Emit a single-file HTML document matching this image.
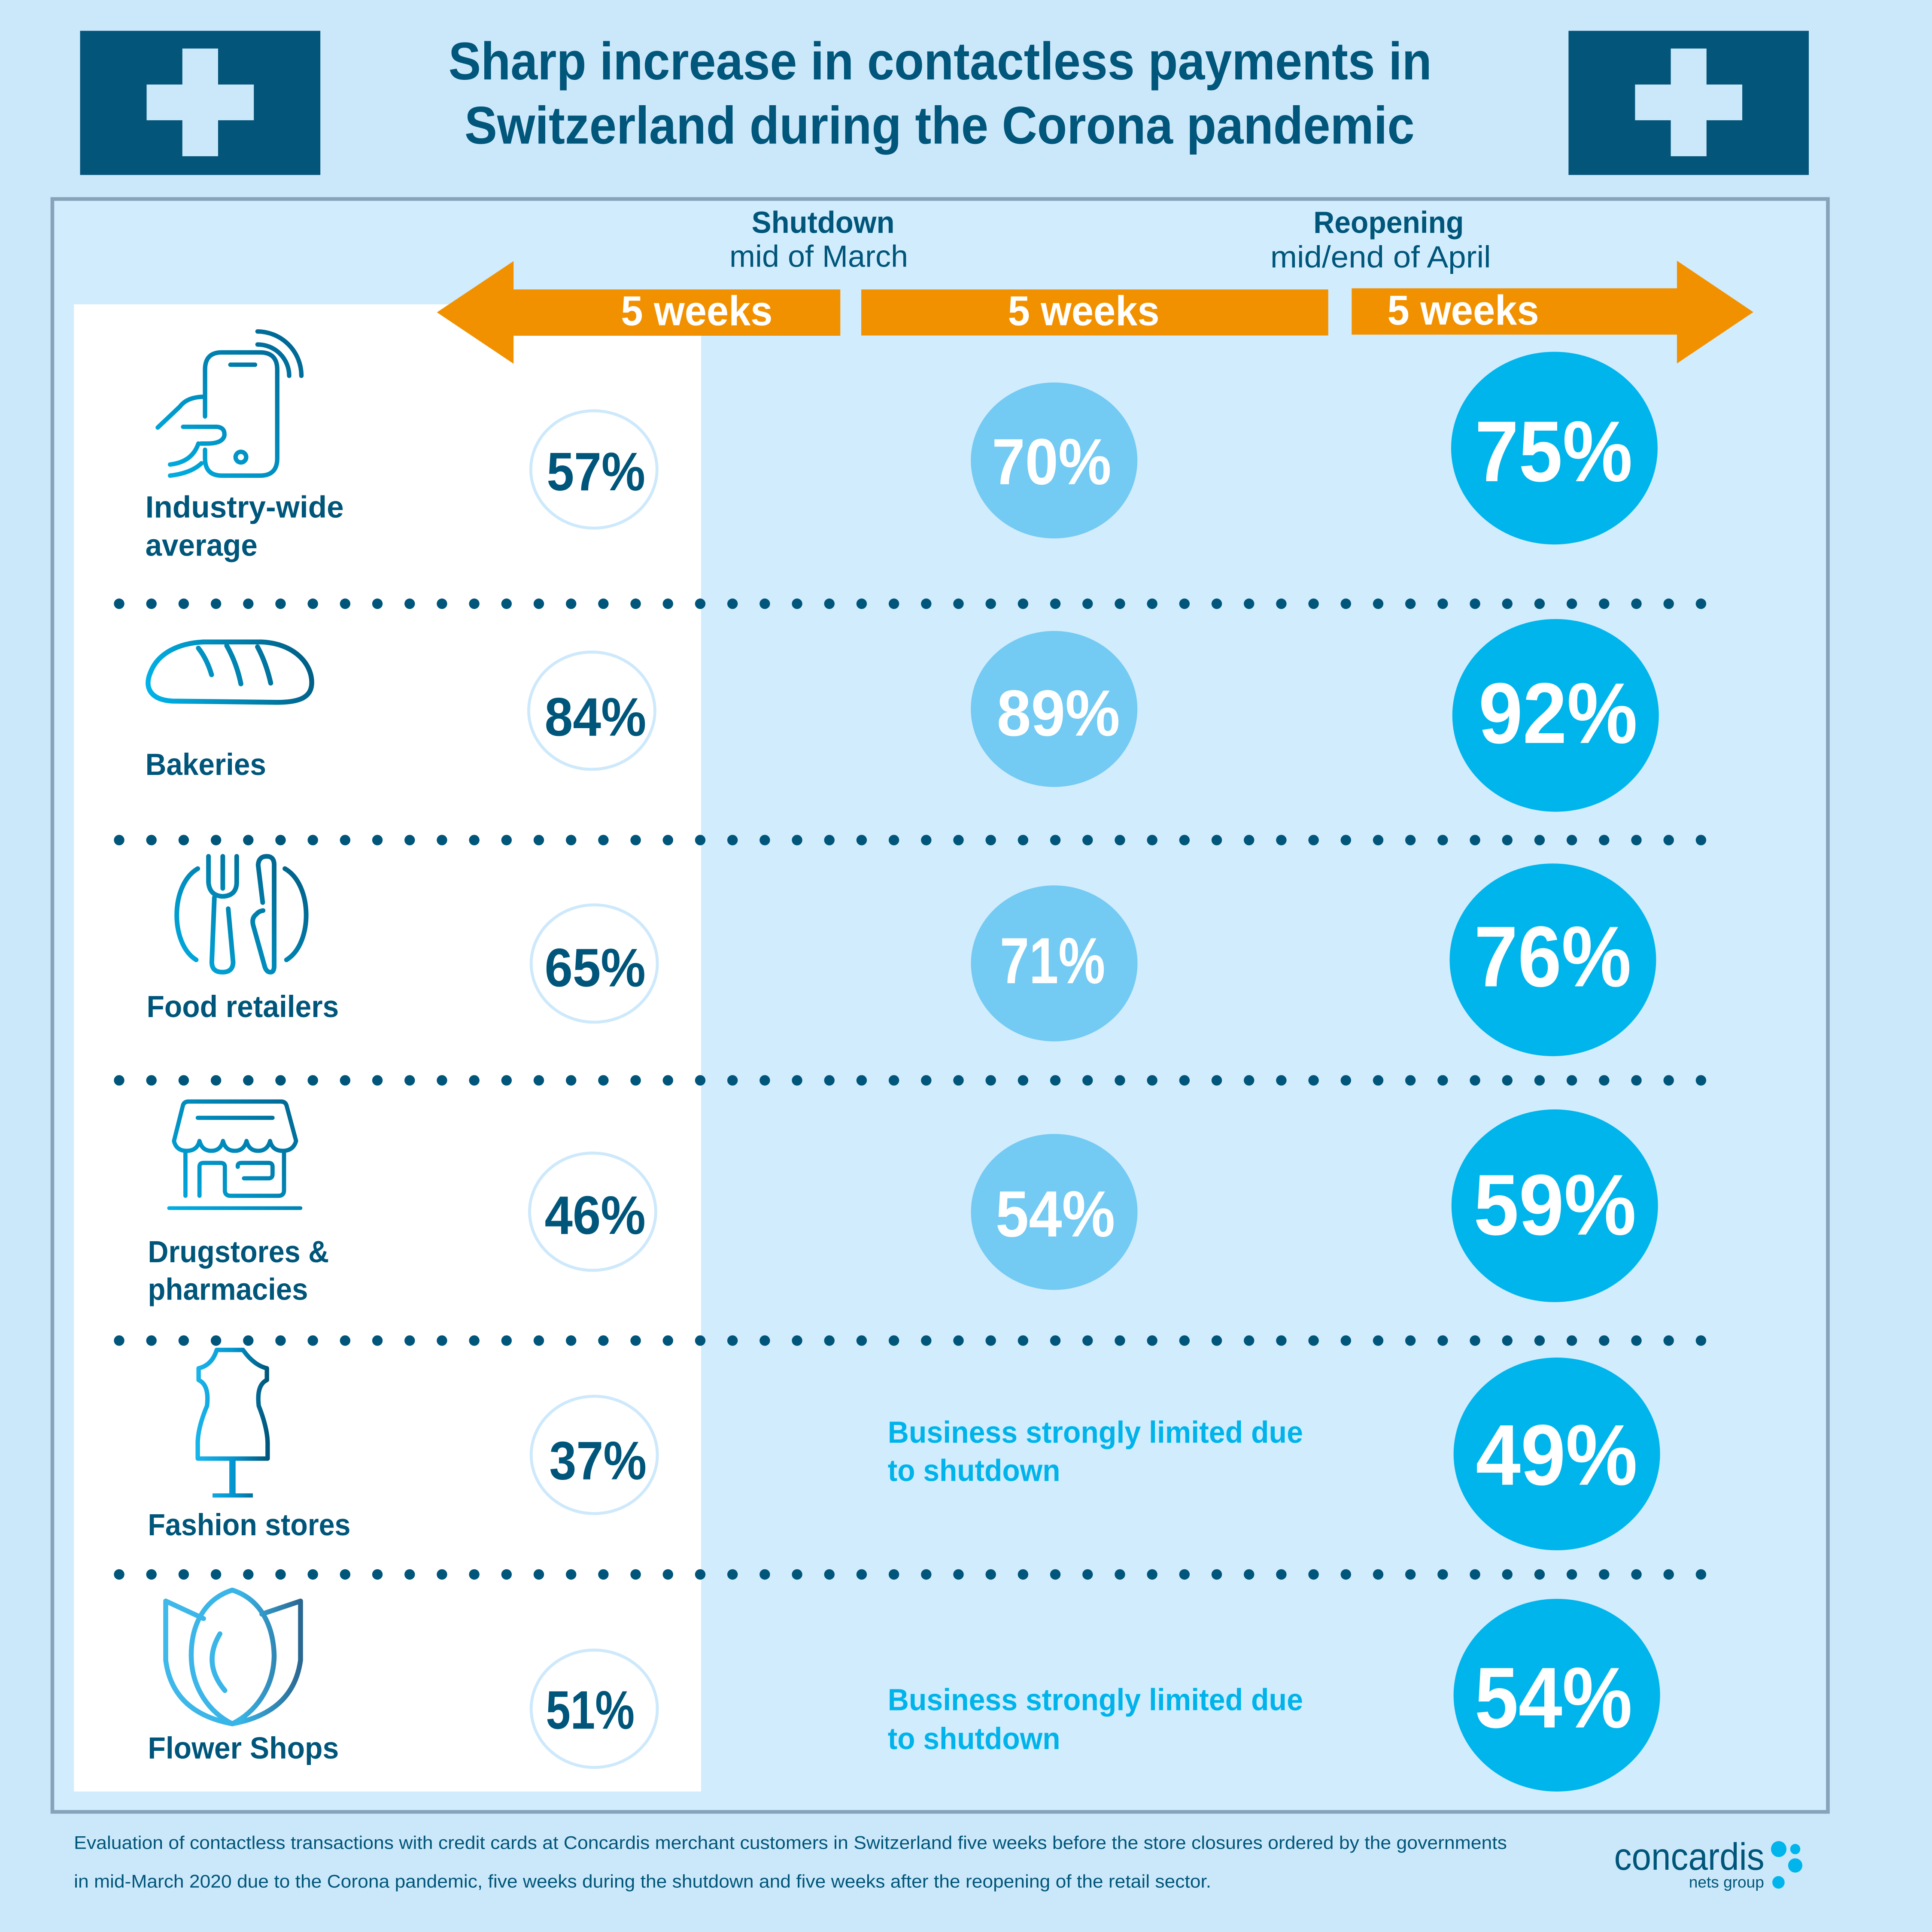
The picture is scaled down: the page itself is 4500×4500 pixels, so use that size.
<!DOCTYPE html>
<html>
<head>
<meta charset="utf-8">
<style>
html,body{margin:0;padding:0;background:#cbe8fa;}
svg{display:block;}
text{font-family:"Liberation Sans",Arial,sans-serif;}
</style>
</head>
<body>
<svg xmlns="http://www.w3.org/2000/svg" width="4500" height="4500" viewBox="0 0 1568 1568">
<defs>
  <linearGradient id="gPhone" gradientUnits="userSpaceOnUse" x1="125" y1="390" x2="245" y2="270">
    <stop offset="0" stop-color="#00b3e8"/><stop offset="1" stop-color="#00628d"/>
  </linearGradient>
  <linearGradient id="gBread" gradientUnits="userSpaceOnUse" x1="118" y1="570" x2="255" y2="525">
    <stop offset="0" stop-color="#00b6ec"/><stop offset="1" stop-color="#005a80"/>
  </linearGradient>
  <linearGradient id="gFood" gradientUnits="userSpaceOnUse" x1="142" y1="790" x2="250" y2="695">
    <stop offset="0" stop-color="#00b0e6"/><stop offset="1" stop-color="#005a80"/>
  </linearGradient>
  <linearGradient id="gStore" gradientUnits="userSpaceOnUse" x1="137" y1="982" x2="244" y2="892">
    <stop offset="0" stop-color="#00aee5"/><stop offset="1" stop-color="#00658f"/>
  </linearGradient>
  <linearGradient id="gDress" gradientUnits="userSpaceOnUse" x1="160" y1="0" x2="218" y2="0">
    <stop offset="0" stop-color="#19b4ea"/><stop offset="0.5" stop-color="#0496cf"/><stop offset="1" stop-color="#00557a"/>
  </linearGradient>
  <linearGradient id="gFlower" gradientUnits="userSpaceOnUse" x1="134" y1="0" x2="245" y2="0">
    <stop offset="0" stop-color="#3fb8ea"/><stop offset="0.55" stop-color="#38b4e6"/><stop offset="1" stop-color="#2a6690"/>
  </linearGradient>
</defs>

<!-- page background -->
<rect x="0" y="0" width="1568" height="1568" fill="#cbe8fa"/>

<!-- flags -->
<rect x="65" y="25" width="195" height="117" fill="#04557a"/>
<rect x="148" y="39.4" width="29" height="87.4" fill="#cbe8fa"/>
<rect x="119" y="68.6" width="87" height="29" fill="#cbe8fa"/>
<rect x="1273" y="25" width="195" height="117" fill="#04557a"/>
<rect x="1356" y="39.4" width="29" height="87.4" fill="#cbe8fa"/>
<rect x="1327" y="68.6" width="87" height="29" fill="#cbe8fa"/>

<!-- title -->
<text x="364" y="64.5" font-size="43" font-weight="bold" fill="#01567b" textLength="798" lengthAdjust="spacingAndGlyphs">Sharp increase in contactless payments in</text>
<text x="377" y="116.5" font-size="43" font-weight="bold" fill="#01567b" textLength="771" lengthAdjust="spacingAndGlyphs">Switzerland during the Corona pandemic</text>

<!-- main panel -->
<rect x="42.5" y="161.5" width="1441" height="1309" fill="#d1ecfd" stroke="#87a3ba" stroke-width="3"/>
<rect x="60" y="247" width="509" height="1207" fill="#ffffff"/>

<!-- headers -->
<text x="610" y="189" font-size="25" font-weight="bold" fill="#00567a" textLength="116" lengthAdjust="spacingAndGlyphs">Shutdown</text>
<text x="592" y="216.5" font-size="25" fill="#00567a" textLength="145" lengthAdjust="spacingAndGlyphs">mid of March</text>
<text x="1066" y="189" font-size="25" font-weight="bold" fill="#00567a" textLength="122" lengthAdjust="spacingAndGlyphs">Reopening</text>
<text x="1031" y="217" font-size="25" fill="#00567a" textLength="179" lengthAdjust="spacingAndGlyphs">mid/end of April</text>

<!-- arrows -->
<polygon points="354.6,253.5 416.8,211.9 416.8,234.9 682,234.9 682,272.5 416.8,272.5 416.8,295.2" fill="#f29100"/>
<rect x="699" y="234.9" width="379" height="37.4" fill="#f29100"/>
<polygon points="1097,234 1361,234 1361,211.6 1423,253.3 1361,295 1361,271.6 1097,271.6" fill="#f29100"/>
<text x="504" y="264" font-size="34" font-weight="bold" fill="#ffffff" textLength="123" lengthAdjust="spacingAndGlyphs">5 weeks</text>
<text x="818" y="264" font-size="34" font-weight="bold" fill="#ffffff" textLength="123" lengthAdjust="spacingAndGlyphs">5 weeks</text>
<text x="1126" y="263.5" font-size="34" font-weight="bold" fill="#ffffff" textLength="123" lengthAdjust="spacingAndGlyphs">5 weeks</text>

<!-- dotted separators -->
<g stroke="#00567a" stroke-width="8.5" stroke-linecap="round" stroke-dasharray="0 26.2" fill="none">
  <line x1="96.7" y1="490" x2="1382" y2="490"/>
  <line x1="96.7" y1="681.8" x2="1382" y2="681.8"/>
  <line x1="96.7" y1="876.8" x2="1382" y2="876.8"/>
  <line x1="96.7" y1="1088" x2="1382" y2="1088"/>
  <line x1="96.7" y1="1277.8" x2="1382" y2="1277.8"/>
</g>

<!-- outline circles (before) -->
<g fill="#ffffff" stroke="#cde9fb" stroke-width="2.4">
  <ellipse cx="482" cy="381" rx="51.2" ry="47.6"/>
  <ellipse cx="480.3" cy="576.8" rx="51.2" ry="47.6"/>
  <ellipse cx="482.3" cy="782" rx="51.2" ry="47.6"/>
  <ellipse cx="481" cy="983.4" rx="51.2" ry="47.6"/>
  <ellipse cx="482.3" cy="1180.8" rx="51.2" ry="47.6"/>
  <ellipse cx="482.3" cy="1386.8" rx="51.2" ry="47.6"/>
</g>
<g font-size="44" font-weight="bold" fill="#00567a">
  <text x="443.7" y="398" textLength="80" lengthAdjust="spacingAndGlyphs">57%</text>
  <text x="442" y="597" textLength="82.5" lengthAdjust="spacingAndGlyphs">84%</text>
  <text x="442" y="800.5" textLength="82" lengthAdjust="spacingAndGlyphs">65%</text>
  <text x="442" y="1001.5" textLength="82" lengthAdjust="spacingAndGlyphs">46%</text>
  <text x="445.8" y="1200.5" textLength="79" lengthAdjust="spacingAndGlyphs">37%</text>
  <text x="443" y="1403" textLength="72" lengthAdjust="spacingAndGlyphs">51%</text>
</g>

<!-- light circles (during) -->
<g fill="#73caf2">
  <ellipse cx="855.5" cy="373.7" rx="67.6" ry="63.3"/>
  <ellipse cx="855.5" cy="575.4" rx="67.6" ry="63.3"/>
  <ellipse cx="855.6" cy="781.9" rx="67.6" ry="63.3"/>
  <ellipse cx="855.6" cy="983.6" rx="67.6" ry="63.3"/>
</g>
<g font-size="53" font-weight="bold" fill="#ffffff">
  <text x="805" y="393" textLength="97" lengthAdjust="spacingAndGlyphs">70%</text>
  <text x="809" y="597" textLength="100" lengthAdjust="spacingAndGlyphs">89%</text>
  <text x="811.5" y="798" textLength="85.5" lengthAdjust="spacingAndGlyphs">71%</text>
  <text x="808" y="1003.5" textLength="97" lengthAdjust="spacingAndGlyphs">54%</text>
</g>

<!-- business limited text -->
<g font-size="25" font-weight="bold" fill="#00b4eb">
  <text x="720.5" y="1171" textLength="337" lengthAdjust="spacingAndGlyphs">Business strongly limited due</text>
  <text x="720.5" y="1202" textLength="140" lengthAdjust="spacingAndGlyphs">to shutdown</text>
  <text x="720.5" y="1388" textLength="337" lengthAdjust="spacingAndGlyphs">Business strongly limited due</text>
  <text x="720.5" y="1419.5" textLength="140" lengthAdjust="spacingAndGlyphs">to shutdown</text>
</g>

<!-- bright circles (after) -->
<g fill="#00b5ec">
  <ellipse cx="1261.5" cy="363.7" rx="83.8" ry="78.2"/>
  <ellipse cx="1262.5" cy="580.6" rx="83.8" ry="78.2"/>
  <ellipse cx="1260.3" cy="779" rx="83.8" ry="78.2"/>
  <ellipse cx="1261.8" cy="978.6" rx="83.8" ry="78.2"/>
  <ellipse cx="1263.5" cy="1180" rx="83.8" ry="78.2"/>
  <ellipse cx="1263.5" cy="1375.8" rx="83.8" ry="78.2"/>
</g>
<g font-size="70" font-weight="bold" fill="#ffffff">
  <text x="1197" y="390.5" textLength="128" lengthAdjust="spacingAndGlyphs">75%</text>
  <text x="1200" y="603" textLength="129" lengthAdjust="spacingAndGlyphs">92%</text>
  <text x="1196.4" y="800.5" textLength="127.6" lengthAdjust="spacingAndGlyphs">76%</text>
  <text x="1196" y="1002" textLength="132" lengthAdjust="spacingAndGlyphs">59%</text>
  <text x="1197.7" y="1205" textLength="131.3" lengthAdjust="spacingAndGlyphs">49%</text>
  <text x="1196.8" y="1402" textLength="128" lengthAdjust="spacingAndGlyphs">54%</text>
</g>

<!-- category labels -->
<g font-size="25" font-weight="bold" fill="#00567a">
  <text x="118" y="420" textLength="161" lengthAdjust="spacingAndGlyphs">Industry-wide</text>
  <text x="118" y="451" textLength="91" lengthAdjust="spacingAndGlyphs">average</text>
  <text x="118" y="629" textLength="98" lengthAdjust="spacingAndGlyphs">Bakeries</text>
  <text x="119" y="825.5" textLength="156" lengthAdjust="spacingAndGlyphs">Food retailers</text>
  <text x="120" y="1024.5" textLength="147" lengthAdjust="spacingAndGlyphs">Drugstores &amp;</text>
  <text x="120" y="1055" textLength="130" lengthAdjust="spacingAndGlyphs">pharmacies</text>
  <text x="120" y="1246" textLength="164.5" lengthAdjust="spacingAndGlyphs">Fashion stores</text>
  <text x="120" y="1427.3" textLength="155" lengthAdjust="spacingAndGlyphs">Flower Shops</text>
</g>

<!-- icon: phone -->
<g fill="none" stroke="url(#gPhone)" stroke-width="3.6" stroke-linecap="round" stroke-linejoin="round">
  <path d="M166.4,338 L166.4,300 Q166.4,286 180,286 L211,286 Q225,286 225,300 L225,372 Q225,386 211,386 L180,386 Q166.4,386 166.4,372 L166.4,365"/>
  <line x1="187" y1="296" x2="207" y2="296"/>
  <circle cx="195.5" cy="371" r="4.3"/>
  <path d="M209,269 A36,36 0 0 1 244.6,305"/>
  <path d="M209,279.6 A25.5,25.5 0 0 1 234.7,305"/>
  <path d="M128,347 L146,330 Q152,322 166,322"/>
  <path d="M148.6,346.4 L176,346.4 Q183,347 182,354 Q180,360 168,360 L163,360"/>
  <path d="M161,360 Q156,375 138,377"/>
  <path d="M138,386 Q155,384 163.5,376"/>
</g>

<!-- icon: bread -->
<g fill="none" stroke="url(#gBread)" stroke-width="4" stroke-linecap="round" stroke-linejoin="round">
  <path d="M140,569 C122,568 117,558 122,546 C128,530 145,522 165,521 L212,521 C238,522 253,538 253,554 C253,566 243,570 225,570 Z"/>
  <path d="M161,526 Q168,535 171.7,547.6"/>
  <path d="M184,524 Q192,538 195.5,555"/>
  <path d="M209,525 Q216,538 219.7,554.4"/>
</g>

<!-- icon: fork & knife -->
<g fill="none" stroke="url(#gFood)" stroke-width="3.8" stroke-linecap="round" stroke-linejoin="round">
  <path d="M160.5,705 C138,718 138,766 159.2,779"/>
  <path d="M231.2,705 C254,718 254,766 232.5,779"/>
  <path d="M169.2,695 L169.2,716 Q170,727 180.8,727.5 Q192,727 192.1,716 L192.1,695"/>
  <path d="M180.8,695 L180.8,721"/>
  <path d="M174,728.4 L171.9,781 Q172,789 180.5,789 Q189,789 189.2,781 L185.2,737.5"/>
  <path d="M213.2,732.5 L209.5,702 Q210,695 216.5,695 Q222.5,695 222.5,702 L222.5,784 Q222.5,789 219.5,789 Q216.5,789 215,785 L205.5,751 Q204,745 208,742 Q210,739.5 213.5,739"/>
</g>

<!-- icon: store -->
<g fill="none" stroke="url(#gStore)" stroke-width="3.4" stroke-linecap="round" stroke-linejoin="round">
  <path d="M141.2,926 L148.5,897 Q149.5,894 153,894 L228,894 Q231.5,894 232.5,897 L240.3,926 Q238,934 229.5,934 Q221,934 219.2,926 Q217,934 209.5,934 Q202,934 200.1,926 Q198,934 190.5,934 Q183,934 181,926 Q179,934 171.5,934 Q164,934 161.9,926 Q160,934 151.5,934 Q143,934 141.2,926 Z"/>
  <line x1="160.5" y1="907.2" x2="221.2" y2="907.2"/>
  <line x1="150.5" y1="934" x2="150.5" y2="970.5"/>
  <path d="M230.5,934 L230.5,966 Q230.5,970.5 226,970.5 L187,970.5 Q182.5,970.5 182.5,966 L182.5,947 Q182.5,943.8 179,943.8 L165,943.8 Q161.9,943.8 161.9,947 L161.9,970.5"/>
  <path d="M193,947 Q192.5,943.8 196,943.8 L218,943.8 Q221.2,943.8 221.2,947 L221.2,953 Q221.2,956.3 218,956.3 L198,956.3"/>
  <line x1="137.2" y1="980.5" x2="243.9" y2="980.5" stroke-width="3"/>
</g>

<!-- icon: dress form -->
<g fill="none" stroke="url(#gDress)" stroke-width="3.6" stroke-linejoin="round">
  <path d="M175.9,1095.6 Q172,1108 161.2,1110.5 L161.2,1120 Q170,1124 168,1141 Q160,1160 160.5,1173 L160.5,1183.8 L217.2,1183.8 L217.2,1173 Q217.5,1160 210,1141 Q208,1124 216.6,1120 L216.6,1110.5 Q206,1108 197.2,1095.6 Z"/>
</g>
<rect x="186.1" y="1184" width="5.1" height="29" fill="url(#gDress)"/>
<rect x="172.5" y="1212" width="32.7" height="3.4" fill="url(#gDress)"/>

<!-- icon: flower -->
<g fill="none" stroke="url(#gFlower)" stroke-width="4" stroke-linecap="round" stroke-linejoin="round">
  <path d="M165.2,1313.6 L134.5,1299.4 L134.5,1347.4 Q140,1390 188.5,1399"/>
  <path d="M212.5,1310 L243.9,1299.4 L243.9,1347.4 Q238,1390 188.5,1399"/>
  <path d="M188.5,1290.5 C165,1298 155,1320 155.2,1344 C155.5,1370 170,1390 188.5,1399 C207,1390 222,1370 222.5,1344 C222,1320 212,1298 188.5,1290.5 Z"/>
  <path d="M178.5,1326 Q164,1350 182.5,1372"/>
</g>

<!-- footer -->
<g font-size="15" fill="#00567a">
  <text x="60" y="1500.5" textLength="1163" lengthAdjust="spacingAndGlyphs">Evaluation of contactless transactions with credit cards at Concardis merchant customers in Switzerland five weeks before the store closures ordered by the governments</text>
  <text x="60" y="1532" textLength="923" lengthAdjust="spacingAndGlyphs">in mid-March 2020 due to the Corona pandemic, five weeks during the shutdown and five weeks after the reopening of the retail sector.</text>
</g>

<!-- logo -->
<text x="1310" y="1517.5" font-size="31" fill="#00567a" textLength="122" lengthAdjust="spacingAndGlyphs">concardis</text>
<text x="1370.7" y="1532" font-size="13" fill="#00567a" textLength="61" lengthAdjust="spacingAndGlyphs">nets group</text>
<g fill="#00b5ec">
  <ellipse cx="1443.6" cy="1500.7" rx="6.3" ry="6.5"/>
  <ellipse cx="1457" cy="1500.7" rx="4.1" ry="4.2"/>
  <ellipse cx="1457" cy="1514" rx="5.8" ry="5.8"/>
  <ellipse cx="1443.4" cy="1527.7" rx="5" ry="5.1"/>
</g>
</svg>
</body>
</html>
